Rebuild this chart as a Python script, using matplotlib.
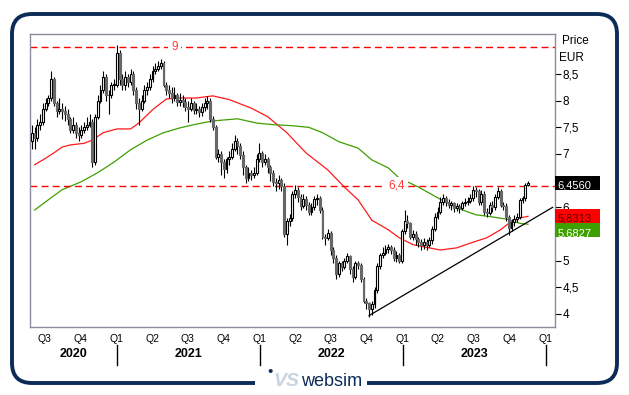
import pandas as pd
import matplotlib
matplotlib.use('Agg')
import matplotlib.pyplot as plt
import matplotlib.dates as mdates
from matplotlib.patches import FancyBboxPatch, Rectangle
from matplotlib.lines import Line2D
from matplotlib.transforms import blended_transform_factory
from matplotlib.ticker import FuncFormatter

plt.rcParams['font.family'] = ['Liberation Sans', 'DejaVu Sans']

# weekly candles
first_week = '2020-05-29'
first_open = 7.25
close = [7.4, 7.3, 7.55, 7.6, 7.85, 7.95, 8.05, 8.4, 7.95, 7.8,
         7.85, 7.8, 7.75, 7.65, 7.45, 7.55, 7.4, 7.35, 7.45, 7.5,
         7.55, 7.6, 6.85, 7.7, 8.0, 8.2, 8.45, 8.1, 8.1, 8.3,
         8.3, 8.9, 8.4, 8.3, 8.45, 8.35, 8.5, 8.2, 7.95, 7.85,
         8.0, 8.2, 8.25, 8.4, 8.55, 8.6, 8.65, 8.7, 8.3, 8.2,
         8.15, 8.05, 8.1, 7.98, 8.02, 7.97, 7.88, 7.85, 7.95, 7.82,
         7.85, 7.78, 7.88, 7.95, 8.0, 7.65, 7.5, 6.95, 7.0, 6.85,
         6.72, 6.9, 6.95, 7.1, 7.25, 7.15, 6.98, 6.75, 6.55, 6.65,
         6.6, 6.65, 6.9, 7.02, 6.85, 6.9, 6.75, 6.65, 6.48, 6.45,
         6.52, 6.4, 5.5, 5.75, 5.8, 6.25, 6.32, 6.2, 6.02, 6.15,
         6.05, 5.92, 6.0, 6.15, 6.18, 5.95, 5.45, 5.42, 5.52, 5.2,
         5.05, 4.75, 4.95, 4.88, 5.0, 5.08, 4.85, 4.7, 4.95, 4.92,
         4.65, 4.25, 4.2, 4.1, 4.18, 4.45, 4.9, 5.1, 5.15, 5.22,
         5.26, 5.2, 5.05, 5.1, 5.0, 5.55, 5.75, 5.7, 5.45, 5.5,
         5.4, 5.35, 5.3, 5.35, 5.3, 5.38, 5.6, 5.82, 5.92, 6.1,
         6.18, 6.1, 6.05, 6.08, 5.98, 6.02, 5.98, 6.08, 6.1, 6.12,
         6.17, 6.33, 6.3, 6.1, 6.25, 5.92, 5.9, 6.05, 6.0, 6.2,
         6.3, 6.05, 6.02, 5.82, 5.62, 5.72, 5.78, 5.82, 6.14, 6.17,
         6.42, 6.456]
high = [7.55, 7.5, 7.65, 7.75, 7.95, 8.05, 8.1, 8.55, 8.45, 8.0,
        8.05, 7.95, 7.9, 7.85, 7.7, 7.7, 7.6, 7.5, 7.55, 7.6,
        7.7, 7.75, 7.65, 7.75, 8.1, 8.3, 8.55, 8.5, 8.2, 8.35,
        8.4, 9.05, 8.95, 8.5, 8.55, 8.5, 8.6, 8.55, 8.25, 8.05,
        8.1, 8.3, 8.35, 8.5, 8.65, 8.7, 8.75, 8.78, 8.75, 8.35,
        8.3, 8.25, 8.25, 8.15, 8.15, 8.1, 8.05, 8.0, 8.05, 8.0,
        7.95, 7.9, 7.95, 8.05, 8.08, 8.05, 7.72, 7.55, 7.1, 7.05,
        6.9, 6.95, 7.05, 7.2, 7.35, 7.3, 7.2, 7.05, 6.8, 6.75,
        6.7, 6.75, 7.0, 7.2, 7.05, 7.0, 6.95, 6.8, 6.7, 6.55,
        6.6, 6.55, 6.45, 5.8, 5.88, 6.3, 6.42, 6.38, 6.25, 6.25,
        6.22, 6.1, 6.08, 6.22, 6.25, 6.22, 6.0, 5.5, 5.6, 5.55,
        5.25, 5.1, 5.0, 5.0, 5.05, 5.15, 5.1, 4.9, 5.0, 5.0,
        4.95, 4.7, 4.3, 4.22, 4.25, 4.5, 4.95, 5.15, 5.25, 5.3,
        5.32, 5.3, 5.25, 5.18, 5.15, 5.6, 5.95, 5.85, 5.72, 5.58,
        5.55, 5.45, 5.4, 5.42, 5.4, 5.45, 5.65, 5.9, 6.0, 6.2,
        6.25, 6.22, 6.15, 6.12, 6.1, 6.08, 6.06, 6.12, 6.18, 6.2,
        6.25, 6.4, 6.38, 6.35, 6.32, 6.3, 5.98, 6.1, 6.12, 6.25,
        6.38, 6.35, 6.1, 6.08, 5.85, 5.78, 5.85, 5.9, 6.18, 6.22,
        6.45, 6.5]
low = [7.1, 7.1, 7.25, 7.45, 7.55, 7.8, 7.9, 8.0, 7.9, 7.7,
       7.75, 7.65, 7.62, 7.55, 7.4, 7.4, 7.3, 7.25, 7.3, 7.4,
       7.45, 7.5, 6.75, 6.8, 7.65, 7.95, 8.15, 8.0, 7.75, 8.05,
       8.2, 8.25, 8.3, 8.2, 8.2, 8.25, 8.3, 8.1, 7.85, 7.55,
       7.8, 7.95, 8.1, 8.2, 8.35, 8.5, 8.55, 8.6, 8.25, 8.1,
       8.05, 7.95, 8.0, 7.9, 7.9, 7.88, 7.8, 7.6, 7.8, 7.75,
       7.75, 7.7, 7.72, 7.8, 7.85, 7.6, 7.45, 6.9, 6.85, 6.6,
       6.55, 6.65, 6.8, 6.9, 7.05, 7.0, 6.9, 6.6, 6.45, 6.5,
       6.52, 6.55, 6.6, 6.85, 6.75, 6.8, 6.65, 6.5, 6.4, 6.3,
       6.35, 6.3, 5.45, 5.3, 5.65, 5.75, 6.18, 6.1, 5.95, 5.98,
       5.95, 5.85, 5.85, 5.95, 6.05, 5.9, 5.4, 5.3, 5.38, 5.1,
       4.95, 4.65, 4.7, 4.8, 4.85, 4.95, 4.75, 4.6, 4.65, 4.85,
       4.6, 4.2, 4.1, 3.95, 3.98, 4.12, 4.4, 4.85, 5.05, 5.1,
       5.15, 5.12, 5.0, 4.98, 4.95, 4.95, 5.5, 5.62, 5.4, 5.38,
       5.3, 5.25, 5.2, 5.22, 5.2, 5.25, 5.32, 5.55, 5.78, 5.88,
       6.05, 6.02, 5.98, 5.95, 5.92, 5.93, 5.9, 5.95, 6.02, 6.05,
       6.08, 6.12, 6.2, 6.05, 6.05, 5.85, 5.82, 5.85, 5.92, 5.95,
       6.15, 6.0, 5.95, 5.75, 5.48, 5.55, 5.65, 5.72, 5.78, 6.08,
       6.12, 6.4]

# moving averages, read at a few weeks (week index, value)
ma_red_week = [1, 4, 8, 11, 14, 19, 22, 26, 31, 36, 39, 44, 49, 53, 60, 66, 72, 80,
               86, 93, 100, 108, 114, 119, 124, 130, 134, 139, 145, 149, 155, 160,
               166, 171, 174, 178, 181]
ma_red = [6.8, 6.89, 7.02, 7.13, 7.17, 7.2, 7.26, 7.4, 7.47, 7.47, 7.58, 7.83, 8.03,
          8.05, 8.05, 8.09, 8.02, 7.86, 7.7, 7.4, 7.02, 6.7, 6.38, 6.14, 5.76, 5.58,
          5.43, 5.3, 5.24, 5.2, 5.24, 5.33, 5.43, 5.58, 5.7, 5.8, 5.8313]
ma_green_week = [1, 7, 11, 18, 24, 30, 36, 42, 48, 54, 60, 66, 75, 82, 88, 95, 101,
                 106, 112, 119, 124, 130, 134, 141, 148, 155, 162, 168, 173, 178, 181]
ma_green = [5.95, 6.18, 6.33, 6.48, 6.65, 6.85, 7.08, 7.26, 7.4, 7.49, 7.56, 7.62,
            7.66, 7.58, 7.55, 7.53, 7.5, 7.4, 7.23, 7.11, 6.89, 6.74, 6.55, 6.38,
            6.18, 5.99, 5.86, 5.82, 5.78, 5.7, 5.6827]

levels = [9, 6.4]
level_labels = ['9', '6,4']
level_label_week = [52, 133]
trend_week = [123, 190]
trend_val = [3.97, 6.0]
last_price = 6.456
ma_red_last = 5.8313
ma_green_last = 5.6827
price_ticks = [4, 4.5, 5, 5.5, 6, 6.5, 7, 7.5, 8, 8.5]
hidden_ticks = [5.5, 6.5]   # covered by the value boxes

dates = pd.date_range(first_week, periods=len(close), freq='7D')
x = mdates.date2num(dates)
opens = [first_open] + close[:-1]
week0 = x[0]
week_len = 7.0

W, H = 629, 395
fig = plt.figure(figsize=(W / 100, H / 100), dpi=100)
ax = fig.add_axes([30 / W, 1 - 327 / H, 525 / W, 293 / H])

# candles
ax.vlines(x, low, high, color='black', lw=0.8, zorder=3)
for xi, o, c in zip(x, opens, close):
    if c >= o:
        ax.bar(xi, max(c - o, 0.012), bottom=o, width=4.8, facecolor='white',
               edgecolor='black', lw=0.8, zorder=4)
    else:
        ax.bar(xi, o - c, bottom=c, width=4.8, facecolor='#676767',
               edgecolor='#676767', lw=0.8, zorder=4)

ax.plot(week0 + week_len * pd.Series(ma_red_week), ma_red, color='#ff1a1a', lw=0.9, zorder=2)
ax.plot(week0 + week_len * pd.Series(ma_green_week), ma_green, color='#3f9f00', lw=0.9, zorder=2)
ax.plot(week0 + week_len * pd.Series(trend_week), trend_val, color='black', lw=0.9, zorder=2)

for lv, lab, wk in zip(levels, level_labels, level_label_week):
    ax.axhline(lv, color='#ff0000', lw=1.0, ls=(0, (5, 3)), zorder=2)
    ax.text(week0 + week_len * wk, lv, lab, color='#ff3b3b', fontsize=8.5,
            ha='center', va='center', zorder=5,
            bbox=dict(boxstyle='square,pad=0.25', fc='white', ec='none'))

x_left = week0 - 5
x_right = week0 + 1336
ax.set_xlim(x_left, x_right)
ax.set_ylim(3.756, 9.25)

# right price axis
ax.yaxis.tick_right()
ax.set_yticks(price_ticks)
ax.yaxis.set_major_formatter(FuncFormatter(
    lambda v, p: '' if v in hidden_ticks else f'{v:g}'.replace('.', ',')))
ax.tick_params(axis='y', direction='out', length=4, width=0.8, pad=1.5, labelsize=8.5)

# quarters
quarters = pd.date_range('2020-07-01', '2024-01-01', freq='QS')
ax.set_xticks(mdates.date2num(quarters))
ax.set_xticklabels([f'Q{q.quarter}' for q in quarters])
ax.tick_params(axis='x', length=0, pad=5, labelsize=7.5)

for s in ax.spines.values():
    s.set_color('#8c8c9a')
    s.set_linewidth(1.0)

trans = blended_transform_factory(ax.transData, ax.transAxes)
year_starts = mdates.date2num(pd.to_datetime(['2020-01-01', '2021-01-01', '2022-01-01',
                                              '2023-01-01', '2024-01-01']))
years = ['2020', '2021', '2022', '2023']
for i, yr in enumerate(years):
    a = max(year_starts[i], x_left)
    b = year_starts[i + 1]
    ax.text((a + b) / 2, -0.092, yr, transform=trans, ha='center', va='center',
            fontsize=9, fontweight='bold', clip_on=False)
for xs in year_starts[1:]:
    ax.add_line(Line2D([xs, xs], [-0.06, -0.13], transform=trans, color='black',
                       lw=1.0, clip_on=False))

# value boxes on the right
tb = blended_transform_factory(ax.transAxes, ax.transData)
boxes = [(last_price, '6,4560', 'black', 'white'),
         (ma_red_last, '5,8313', '#ff0000', '#5a0000'),
         (ma_red_last - 0.263, '5,6827', '#3f9f00', 'white')]
for yv, lab, fc, tc in boxes:
    ax.add_patch(Rectangle((1.0, yv - 0.1315), 45 / 525, 0.263, transform=tb,
                           facecolor=fc, edgecolor='none', clip_on=False, zorder=6))
    ax.text(1.004, yv - 0.05, lab, transform=tb, color=tc, fontsize=8, ha='left',
            va='center', clip_on=False, zorder=7)

fig.text(562 / W, 1 - 41 / H, 'Price', fontsize=8.5, ha='left', va='center')
fig.text(559 / W, 1 - 58 / H, 'EUR', fontsize=8.5, ha='left', va='center')

# frame and logo
frame = FancyBboxPatch((0.12, 0.12), 6.05, 3.69, boxstyle='round,pad=0,rounding_size=0.2',
                       transform=fig.dpi_scale_trans, facecolor='none',
                       edgecolor='#0d2b57', lw=2.8)
fig.add_artist(frame)
fig.add_artist(Rectangle((255 / W, 0), 112 / W, 0.06, transform=fig.transFigure,
                         facecolor='white', edgecolor='none'))
fig.text(270 / W, 1 - 372 / H, '\u2022', color='#0d2b57', fontsize=11, ha='center', va='center')
fig.text(286 / W, 1 - 381 / H, 'VS', color='#c9d4e0', fontsize=14, fontweight='bold',
         style='italic', ha='center', va='center')
fig.text(332 / W, 1 - 382 / H, 'websim', color='#0d2b57', fontsize=13, ha='center', va='center')

fig.savefig('out.png', dpi=100)
